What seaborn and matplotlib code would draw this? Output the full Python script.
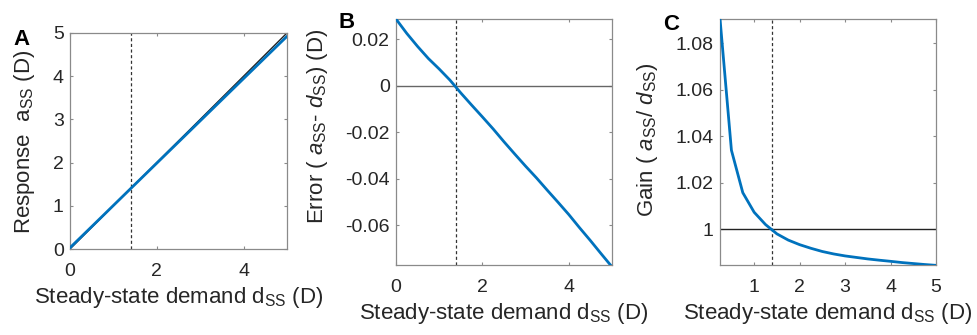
import numpy as np
import pandas as pd
import matplotlib
matplotlib.use("Agg")
import matplotlib.pyplot as plt
import seaborn as sns

# steady-state demand (D) and error a_ss - d_ss (D)
demand = [0.0, 0.25, 0.5, 0.75, 1.0, 1.25, 1.5, 1.75, 2.0, 2.25, 2.5,
          2.75, 3.0, 3.25, 3.5, 3.75, 4.0, 4.25, 4.5, 4.75, 5.0]
error = [0.0288, 0.0226, 0.0170, 0.0118, 0.0073, 0.0025, -0.0030, -0.0082,
         -0.0133, -0.0185, -0.0240, -0.0293, -0.0345, -0.0395, -0.0448,
         -0.0500, -0.0553, -0.0610, -0.0665, -0.0722, -0.0778]
d_cross = 1.4  # dashed marker

df = pd.DataFrame({"d": demand, "err": error})
df["a"] = df["d"] + df["err"]
gain_df = df[df["d"] > 0].copy()
gain_df["gain"] = gain_df["a"] / gain_df["d"]

sns.set_style("ticks")
plt.rcParams["font.family"] = ["Liberation Sans", "DejaVu Sans"]
plt.rcParams["mathtext.fontset"] = "custom"
plt.rcParams["mathtext.rm"] = "Liberation Sans"
plt.rcParams["mathtext.it"] = "Liberation Sans:italic"

blue = "#0072BD"
spine_c = "#8a8a8a"
txt_c = "#262626"
lab_fs = 16
tick_fs = 14

fig = plt.figure(figsize=(9.77, 3.35), dpi=100)
axA = fig.add_axes([0.0716, 0.2567, 0.2221, 0.6448])
axB = fig.add_axes([0.4053, 0.2090, 0.2211, 0.7343])
axC = fig.add_axes([0.7370, 0.2090, 0.2211, 0.7343])

xlab = r"Steady-state demand d$_{\rm SS}$ (D)"

# A
axA.plot([0, 5], [0, 5], color="#222222", lw=1.0, zorder=2)
sns.lineplot(data=df, x="d", y="a", ax=axA, color=blue, lw=2, zorder=3)
axA.set_xlim(0, 5)
axA.set_ylim(0, 5)
axA.set_xticks([0, 2, 4])
axA.set_yticks([0, 1, 2, 3, 4, 5])
axA.set_ylabel(r"Response  a$_{\rm SS}$ (D)", fontsize=lab_fs)
axA.yaxis.set_label_coords(-0.152, 0.495)

# B
axB.axhline(0, color="#666666", lw=1.0, zorder=2)
sns.lineplot(data=df, x="d", y="err", ax=axB, color=blue, lw=2, zorder=3)
axB.set_xlim(0, 5)
axB.set_ylim(-0.077, 0.0288)
axB.set_xticks([0, 2, 4])
axB.set_yticks([-0.06, -0.04, -0.02, 0, 0.02])
axB.set_yticklabels(["-0.06", "-0.04", "-0.02", "0", "0.02"])
axB.set_ylabel(r"Error ( $a_{\rm SS}$- $d_{\rm SS}$) (D)", fontsize=lab_fs)
axB.yaxis.set_label_coords(-0.306, 0.565)

# C
axC.axhline(1, color="#222222", lw=1.0, zorder=2)
sns.lineplot(data=gain_df, x="d", y="gain", ax=axC, color=blue, lw=2, zorder=3)
axC.set_xlim(0.25, 5)
axC.set_ylim(0.9846, 1.0905)
axC.set_xticks([1, 2, 3, 4, 5])
axC.set_yticks([1, 1.02, 1.04, 1.06, 1.08])
axC.set_yticklabels(["1", "1.02", "1.04", "1.06", "1.08"])
axC.set_ylabel(r"Gain ( $a_{\rm SS}$/ $d_{\rm SS}$)", fontsize=lab_fs)
axC.yaxis.set_label_coords(-0.278, 0.51)

for ax, letter, lx, ly in [(axA, "A", 0.0133, 0.866), (axB, "B", 0.346, 0.916), (axC, "C", 0.679, 0.910)]:
    ax.axvline(d_cross, color="#333333", lw=0.9, ls=(0, (2.5, 2)), zorder=1)
    ax.set_xlabel(xlab, labelpad=4, color=txt_c, fontsize=lab_fs)
    ax.yaxis.label.set_color(txt_c)
    ax.tick_params(direction="in", length=2.5, width=0.8, color=spine_c,
                   labelcolor=txt_c, labelsize=tick_fs, top=True, right=True)
    ax.tick_params(axis="x", pad=10)
    ax.tick_params(axis="y", pad=4.5)
    for s in ax.spines.values():
        s.set_color(spine_c)
        s.set_linewidth(0.9)
    fig.text(lx, ly, letter, fontsize=16, fontweight="bold", color="black", va="baseline")

fig.savefig("out.png", dpi=100)
